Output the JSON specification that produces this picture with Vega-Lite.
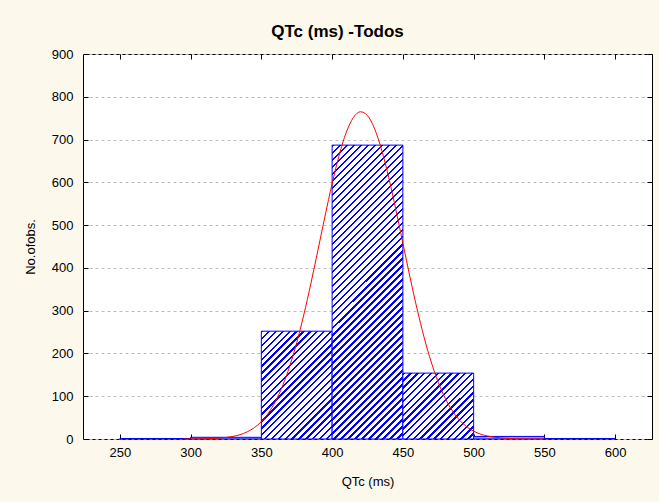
{
  "$schema": "https://vega.github.io/schema/vega-lite/v6.json",
  "width": 569,
  "height": 385,
  "autosize": {"type": "none"},
  "padding": {"left": 83, "top": 54, "right": 7, "bottom": 63},
  "background": "#fdf8ec",
  "title": {
    "text": "QTc (ms) -Todos",
    "font": "Liberation Sans",
    "fontSize": 17,
    "fontWeight": "bold",
    "color": "#000000",
    "dx": -30,
    "offset": 7
  },
  "config": {
    "view": {"stroke": "#000000", "strokeWidth": 1, "fill": "#ffffff"},
    "axis": {
      "labelFont": "Liberation Sans",
      "labelFontSize": 13,
      "labelColor": "#000000",
      "titleFont": "Liberation Sans",
      "titleFontSize": 13,
      "titleFontWeight": "normal",
      "titleColor": "#000000",
      "tickColor": "#000000",
      "tickSize": -5,
      "domain": false
    }
  },
  "datasets": {
    "bins": [
      {"lo": 250, "hi": 300, "count": 1},
      {"lo": 300, "hi": 350, "count": 4},
      {"lo": 350, "hi": 400, "count": 252},
      {"lo": 400, "hi": 450, "count": 687},
      {"lo": 450, "hi": 500, "count": 154},
      {"lo": 500, "hi": 550, "count": 6},
      {"lo": 550, "hi": 600, "count": 1}
    ],
    "normal": [
      {"q": 295, "n": 0.07}, {"q": 300, "n": 0.14}, {"q": 305, "n": 0.29}, {"q": 310, "n": 0.57},
      {"q": 315, "n": 1.07}, {"q": 320, "n": 1.97}, {"q": 325, "n": 3.5}, {"q": 330, "n": 6.1},
      {"q": 335, "n": 10.2}, {"q": 340, "n": 16.7}, {"q": 345, "n": 26.4}, {"q": 350, "n": 40.6},
      {"q": 355, "n": 60.7}, {"q": 360, "n": 88.2}, {"q": 365, "n": 124.1}, {"q": 370, "n": 169.7},
      {"q": 375, "n": 225.2}, {"q": 380, "n": 290.4}, {"q": 385, "n": 363.5}, {"q": 390, "n": 441.7},
      {"q": 395, "n": 521.1}, {"q": 400, "n": 596.9}, {"q": 405, "n": 663.8}, {"q": 410, "n": 716.8},
      {"q": 415, "n": 751.5}, {"q": 420, "n": 764.9}, {"q": 425, "n": 755.9}, {"q": 430, "n": 725.3},
      {"q": 435, "n": 675.7}, {"q": 440, "n": 611.2}, {"q": 445, "n": 536.7}, {"q": 450, "n": 457.6},
      {"q": 455, "n": 378.8}, {"q": 460, "n": 304.5}, {"q": 465, "n": 237.6}, {"q": 470, "n": 180.0},
      {"q": 475, "n": 132.4}, {"q": 480, "n": 94.6}, {"q": 485, "n": 65.6}, {"q": 490, "n": 44.2},
      {"q": 495, "n": 28.9}, {"q": 500, "n": 18.3}, {"q": 505, "n": 11.3}, {"q": 510, "n": 6.8},
      {"q": 515, "n": 3.9}, {"q": 520, "n": 2.2}, {"q": 525, "n": 1.21}, {"q": 530, "n": 0.64},
      {"q": 535, "n": 0.33}, {"q": 540, "n": 0.17}, {"q": 545, "n": 0.08}, {"q": 550, "n": 0.04}
    ]
  },
  "layer": [
    {
      "data": {"name": "bins"},
      "mark": {"type": "rect", "stroke": "#0000ff", "strokeWidth": 1},
      "encoding": {
        "x": {
          "field": "lo",
          "type": "quantitative",
          "scale": {"domain": [224, 626], "nice": false, "zero": false},
          "axis": {
            "orient": "bottom",
            "values": [250, 300, 350, 400, 450, 500, 550, 600],
            "title": "QTc (ms)",
            "titlePadding": 16,
            "labelPadding": 12,
            "grid": false
          }
        },
        "x2": {"field": "hi"},
        "y": {
          "field": "count",
          "type": "quantitative",
          "scale": {"domain": [0, 900], "nice": false},
          "axis": {
            "orient": "left",
            "values": [0, 100, 200, 300, 400, 500, 600, 700, 800, 900],
            "title": "No.ofobs.",
            "titlePadding": 14,
            "labelPadding": 15,
            "grid": true,
            "gridColor": "#bdbdbd",
            "gridDash": [3, 3],
            "gridWidth": 1
          }
        },
        "y2": {"datum": 0},
        "fill": {
          "condition": [
            {
              "test": "datum.count > 500",
              "value": {
                "gradient": "linear", "x1": 0, "y1": 0, "x2": 0.2824, "y2": 1.1728,
                "stops": [
                  {"offset": 0, "color": "#00f"}, {"offset": 0.0067, "color": "#00f"}, {"offset": 0.0067, "color": "#fff"}, {"offset": 0.0192, "color": "#fff"},
                  {"offset": 0.0192, "color": "#00f"}, {"offset": 0.026, "color": "#00f"}, {"offset": 0.026, "color": "#fff"}, {"offset": 0.0385, "color": "#fff"},
                  {"offset": 0.0385, "color": "#00f"}, {"offset": 0.0452, "color": "#00f"}, {"offset": 0.0452, "color": "#fff"}, {"offset": 0.0577, "color": "#fff"},
                  {"offset": 0.0577, "color": "#00f"}, {"offset": 0.0644, "color": "#00f"}, {"offset": 0.0644, "color": "#fff"}, {"offset": 0.0769, "color": "#fff"},
                  {"offset": 0.0769, "color": "#00f"}, {"offset": 0.0837, "color": "#00f"}, {"offset": 0.0837, "color": "#fff"}, {"offset": 0.0962, "color": "#fff"},
                  {"offset": 0.0962, "color": "#00f"}, {"offset": 0.1029, "color": "#00f"}, {"offset": 0.1029, "color": "#fff"}, {"offset": 0.1154, "color": "#fff"},
                  {"offset": 0.1154, "color": "#00f"}, {"offset": 0.1221, "color": "#00f"}, {"offset": 0.1221, "color": "#fff"}, {"offset": 0.1346, "color": "#fff"},
                  {"offset": 0.1346, "color": "#00f"}, {"offset": 0.1413, "color": "#00f"}, {"offset": 0.1413, "color": "#fff"}, {"offset": 0.1538, "color": "#fff"},
                  {"offset": 0.1538, "color": "#00f"}, {"offset": 0.1606, "color": "#00f"}, {"offset": 0.1606, "color": "#fff"}, {"offset": 0.1731, "color": "#fff"},
                  {"offset": 0.1731, "color": "#00f"}, {"offset": 0.1798, "color": "#00f"}, {"offset": 0.1798, "color": "#fff"}, {"offset": 0.1923, "color": "#fff"},
                  {"offset": 0.1923, "color": "#00f"}, {"offset": 0.199, "color": "#00f"}, {"offset": 0.199, "color": "#fff"}, {"offset": 0.2115, "color": "#fff"},
                  {"offset": 0.2115, "color": "#00f"}, {"offset": 0.2183, "color": "#00f"}, {"offset": 0.2183, "color": "#fff"}, {"offset": 0.2308, "color": "#fff"},
                  {"offset": 0.2308, "color": "#00f"}, {"offset": 0.2375, "color": "#00f"}, {"offset": 0.2375, "color": "#fff"}, {"offset": 0.25, "color": "#fff"},
                  {"offset": 0.25, "color": "#00f"}, {"offset": 0.2567, "color": "#00f"}, {"offset": 0.2567, "color": "#fff"}, {"offset": 0.2692, "color": "#fff"},
                  {"offset": 0.2692, "color": "#00f"}, {"offset": 0.276, "color": "#00f"}, {"offset": 0.276, "color": "#fff"}, {"offset": 0.2885, "color": "#fff"},
                  {"offset": 0.2885, "color": "#00f"}, {"offset": 0.2952, "color": "#00f"}, {"offset": 0.2952, "color": "#fff"}, {"offset": 0.3077, "color": "#fff"},
                  {"offset": 0.3077, "color": "#00f"}, {"offset": 0.3144, "color": "#00f"}, {"offset": 0.3144, "color": "#fff"}, {"offset": 0.3269, "color": "#fff"},
                  {"offset": 0.3269, "color": "#00f"}, {"offset": 0.3337, "color": "#00f"}, {"offset": 0.3337, "color": "#fff"}, {"offset": 0.3462, "color": "#fff"},
                  {"offset": 0.3462, "color": "#00f"}, {"offset": 0.3529, "color": "#00f"}, {"offset": 0.3529, "color": "#fff"}, {"offset": 0.3654, "color": "#fff"},
                  {"offset": 0.3654, "color": "#00f"}, {"offset": 0.3721, "color": "#00f"}, {"offset": 0.3721, "color": "#fff"}, {"offset": 0.3846, "color": "#fff"},
                  {"offset": 0.3846, "color": "#00f"}, {"offset": 0.3913, "color": "#00f"}, {"offset": 0.3913, "color": "#fff"}, {"offset": 0.4038, "color": "#fff"},
                  {"offset": 0.4038, "color": "#00f"}, {"offset": 0.4106, "color": "#00f"}, {"offset": 0.4106, "color": "#fff"}, {"offset": 0.4231, "color": "#fff"},
                  {"offset": 0.4231, "color": "#00f"}, {"offset": 0.4298, "color": "#00f"}, {"offset": 0.4298, "color": "#fff"}, {"offset": 0.4423, "color": "#fff"},
                  {"offset": 0.4423, "color": "#00f"}, {"offset": 0.449, "color": "#00f"}, {"offset": 0.449, "color": "#fff"}, {"offset": 0.4615, "color": "#fff"},
                  {"offset": 0.4615, "color": "#00f"}, {"offset": 0.4683, "color": "#00f"}, {"offset": 0.4683, "color": "#fff"}, {"offset": 0.4808, "color": "#fff"},
                  {"offset": 0.4808, "color": "#00f"}, {"offset": 0.4875, "color": "#00f"}, {"offset": 0.4875, "color": "#fff"}, {"offset": 0.5, "color": "#fff"},
                  {"offset": 0.5, "color": "#00f"}, {"offset": 0.5067, "color": "#00f"}, {"offset": 0.5067, "color": "#fff"}, {"offset": 0.5192, "color": "#fff"},
                  {"offset": 0.5192, "color": "#00f"}, {"offset": 0.526, "color": "#00f"}, {"offset": 0.526, "color": "#fff"}, {"offset": 0.5385, "color": "#fff"},
                  {"offset": 0.5385, "color": "#00f"}, {"offset": 0.5452, "color": "#00f"}, {"offset": 0.5452, "color": "#fff"}, {"offset": 0.5577, "color": "#fff"},
                  {"offset": 0.5577, "color": "#00f"}, {"offset": 0.5644, "color": "#00f"}, {"offset": 0.5644, "color": "#fff"}, {"offset": 0.5769, "color": "#fff"},
                  {"offset": 0.5769, "color": "#00f"}, {"offset": 0.5837, "color": "#00f"}, {"offset": 0.5837, "color": "#fff"}, {"offset": 0.5962, "color": "#fff"},
                  {"offset": 0.5962, "color": "#00f"}, {"offset": 0.6029, "color": "#00f"}, {"offset": 0.6029, "color": "#fff"}, {"offset": 0.6154, "color": "#fff"},
                  {"offset": 0.6154, "color": "#00f"}, {"offset": 0.6221, "color": "#00f"}, {"offset": 0.6221, "color": "#fff"}, {"offset": 0.6346, "color": "#fff"},
                  {"offset": 0.6346, "color": "#00f"}, {"offset": 0.6413, "color": "#00f"}, {"offset": 0.6413, "color": "#fff"}, {"offset": 0.6538, "color": "#fff"},
                  {"offset": 0.6538, "color": "#00f"}, {"offset": 0.6606, "color": "#00f"}, {"offset": 0.6606, "color": "#fff"}, {"offset": 0.6731, "color": "#fff"},
                  {"offset": 0.6731, "color": "#00f"}, {"offset": 0.6798, "color": "#00f"}, {"offset": 0.6798, "color": "#fff"}, {"offset": 0.6923, "color": "#fff"},
                  {"offset": 0.6923, "color": "#00f"}, {"offset": 0.699, "color": "#00f"}, {"offset": 0.699, "color": "#fff"}, {"offset": 0.7115, "color": "#fff"},
                  {"offset": 0.7115, "color": "#00f"}, {"offset": 0.7183, "color": "#00f"}, {"offset": 0.7183, "color": "#fff"}, {"offset": 0.7308, "color": "#fff"},
                  {"offset": 0.7308, "color": "#00f"}, {"offset": 0.7375, "color": "#00f"}, {"offset": 0.7375, "color": "#fff"}, {"offset": 0.75, "color": "#fff"},
                  {"offset": 0.75, "color": "#00f"}, {"offset": 0.7567, "color": "#00f"}, {"offset": 0.7567, "color": "#fff"}, {"offset": 0.7692, "color": "#fff"},
                  {"offset": 0.7692, "color": "#00f"}, {"offset": 0.776, "color": "#00f"}, {"offset": 0.776, "color": "#fff"}, {"offset": 0.7885, "color": "#fff"},
                  {"offset": 0.7885, "color": "#00f"}, {"offset": 0.7952, "color": "#00f"}, {"offset": 0.7952, "color": "#fff"}, {"offset": 0.8077, "color": "#fff"},
                  {"offset": 0.8077, "color": "#00f"}, {"offset": 0.8144, "color": "#00f"}, {"offset": 0.8144, "color": "#fff"}, {"offset": 0.8269, "color": "#fff"},
                  {"offset": 0.8269, "color": "#00f"}, {"offset": 0.8337, "color": "#00f"}, {"offset": 0.8337, "color": "#fff"}, {"offset": 0.8462, "color": "#fff"},
                  {"offset": 0.8462, "color": "#00f"}, {"offset": 0.8529, "color": "#00f"}, {"offset": 0.8529, "color": "#fff"}, {"offset": 0.8654, "color": "#fff"},
                  {"offset": 0.8654, "color": "#00f"}, {"offset": 0.8721, "color": "#00f"}, {"offset": 0.8721, "color": "#fff"}, {"offset": 0.8846, "color": "#fff"},
                  {"offset": 0.8846, "color": "#00f"}, {"offset": 0.8913, "color": "#00f"}, {"offset": 0.8913, "color": "#fff"}, {"offset": 0.9038, "color": "#fff"},
                  {"offset": 0.9038, "color": "#00f"}, {"offset": 0.9106, "color": "#00f"}, {"offset": 0.9106, "color": "#fff"}, {"offset": 0.9231, "color": "#fff"},
                  {"offset": 0.9231, "color": "#00f"}, {"offset": 0.9298, "color": "#00f"}, {"offset": 0.9298, "color": "#fff"}, {"offset": 0.9423, "color": "#fff"},
                  {"offset": 0.9423, "color": "#00f"}, {"offset": 0.949, "color": "#00f"}, {"offset": 0.949, "color": "#fff"}, {"offset": 0.9615, "color": "#fff"},
                  {"offset": 0.9615, "color": "#00f"}, {"offset": 0.9683, "color": "#00f"}, {"offset": 0.9683, "color": "#fff"}, {"offset": 0.9808, "color": "#fff"},
                  {"offset": 0.9808, "color": "#00f"}, {"offset": 0.9875, "color": "#00f"}, {"offset": 0.9875, "color": "#fff"}, {"offset": 1, "color": "#fff"}
                ]
              }
            },
            {
              "test": "datum.count > 200",
              "value": {
                "gradient": "linear", "x1": 0, "y1": 0, "x2": 0.76, "y2": 1.1576,
                "stops": [
                  {"offset": 0, "color": "#00f"}, {"offset": 0.0135, "color": "#00f"}, {"offset": 0.0135, "color": "#fff"}, {"offset": 0.0385, "color": "#fff"},
                  {"offset": 0.0385, "color": "#00f"}, {"offset": 0.0519, "color": "#00f"}, {"offset": 0.0519, "color": "#fff"}, {"offset": 0.0769, "color": "#fff"},
                  {"offset": 0.0769, "color": "#00f"}, {"offset": 0.0904, "color": "#00f"}, {"offset": 0.0904, "color": "#fff"}, {"offset": 0.1154, "color": "#fff"},
                  {"offset": 0.1154, "color": "#00f"}, {"offset": 0.1288, "color": "#00f"}, {"offset": 0.1288, "color": "#fff"}, {"offset": 0.1538, "color": "#fff"},
                  {"offset": 0.1538, "color": "#00f"}, {"offset": 0.1673, "color": "#00f"}, {"offset": 0.1673, "color": "#fff"}, {"offset": 0.1923, "color": "#fff"},
                  {"offset": 0.1923, "color": "#00f"}, {"offset": 0.2058, "color": "#00f"}, {"offset": 0.2058, "color": "#fff"}, {"offset": 0.2308, "color": "#fff"},
                  {"offset": 0.2308, "color": "#00f"}, {"offset": 0.2442, "color": "#00f"}, {"offset": 0.2442, "color": "#fff"}, {"offset": 0.2692, "color": "#fff"},
                  {"offset": 0.2692, "color": "#00f"}, {"offset": 0.2827, "color": "#00f"}, {"offset": 0.2827, "color": "#fff"}, {"offset": 0.3077, "color": "#fff"},
                  {"offset": 0.3077, "color": "#00f"}, {"offset": 0.3212, "color": "#00f"}, {"offset": 0.3212, "color": "#fff"}, {"offset": 0.3462, "color": "#fff"},
                  {"offset": 0.3462, "color": "#00f"}, {"offset": 0.3596, "color": "#00f"}, {"offset": 0.3596, "color": "#fff"}, {"offset": 0.3846, "color": "#fff"},
                  {"offset": 0.3846, "color": "#00f"}, {"offset": 0.3981, "color": "#00f"}, {"offset": 0.3981, "color": "#fff"}, {"offset": 0.4231, "color": "#fff"},
                  {"offset": 0.4231, "color": "#00f"}, {"offset": 0.4365, "color": "#00f"}, {"offset": 0.4365, "color": "#fff"}, {"offset": 0.4615, "color": "#fff"},
                  {"offset": 0.4615, "color": "#00f"}, {"offset": 0.475, "color": "#00f"}, {"offset": 0.475, "color": "#fff"}, {"offset": 0.5, "color": "#fff"},
                  {"offset": 0.5, "color": "#00f"}, {"offset": 0.5135, "color": "#00f"}, {"offset": 0.5135, "color": "#fff"}, {"offset": 0.5385, "color": "#fff"},
                  {"offset": 0.5385, "color": "#00f"}, {"offset": 0.5519, "color": "#00f"}, {"offset": 0.5519, "color": "#fff"}, {"offset": 0.5769, "color": "#fff"},
                  {"offset": 0.5769, "color": "#00f"}, {"offset": 0.5904, "color": "#00f"}, {"offset": 0.5904, "color": "#fff"}, {"offset": 0.6154, "color": "#fff"},
                  {"offset": 0.6154, "color": "#00f"}, {"offset": 0.6288, "color": "#00f"}, {"offset": 0.6288, "color": "#fff"}, {"offset": 0.6538, "color": "#fff"},
                  {"offset": 0.6538, "color": "#00f"}, {"offset": 0.6673, "color": "#00f"}, {"offset": 0.6673, "color": "#fff"}, {"offset": 0.6923, "color": "#fff"},
                  {"offset": 0.6923, "color": "#00f"}, {"offset": 0.7058, "color": "#00f"}, {"offset": 0.7058, "color": "#fff"}, {"offset": 0.7308, "color": "#fff"},
                  {"offset": 0.7308, "color": "#00f"}, {"offset": 0.7442, "color": "#00f"}, {"offset": 0.7442, "color": "#fff"}, {"offset": 0.7692, "color": "#fff"},
                  {"offset": 0.7692, "color": "#00f"}, {"offset": 0.7827, "color": "#00f"}, {"offset": 0.7827, "color": "#fff"}, {"offset": 0.8077, "color": "#fff"},
                  {"offset": 0.8077, "color": "#00f"}, {"offset": 0.8212, "color": "#00f"}, {"offset": 0.8212, "color": "#fff"}, {"offset": 0.8462, "color": "#fff"},
                  {"offset": 0.8462, "color": "#00f"}, {"offset": 0.8596, "color": "#00f"}, {"offset": 0.8596, "color": "#fff"}, {"offset": 0.8846, "color": "#fff"},
                  {"offset": 0.8846, "color": "#00f"}, {"offset": 0.8981, "color": "#00f"}, {"offset": 0.8981, "color": "#fff"}, {"offset": 0.9231, "color": "#fff"},
                  {"offset": 0.9231, "color": "#00f"}, {"offset": 0.9365, "color": "#00f"}, {"offset": 0.9365, "color": "#fff"}, {"offset": 0.9615, "color": "#fff"},
                  {"offset": 0.9615, "color": "#00f"}, {"offset": 0.975, "color": "#00f"}, {"offset": 0.975, "color": "#fff"}, {"offset": 1, "color": "#fff"}
                ]
              }
            },
            {
              "test": "datum.count > 100",
              "value": {
                "gradient": "linear", "x1": 0, "y1": 0, "x2": 1.0345, "y2": 0.963,
                "stops": [
                  {"offset": 0, "color": "#00f"}, {"offset": 0.0175, "color": "#00f"}, {"offset": 0.0175, "color": "#fff"}, {"offset": 0.05, "color": "#fff"},
                  {"offset": 0.05, "color": "#00f"}, {"offset": 0.0675, "color": "#00f"}, {"offset": 0.0675, "color": "#fff"}, {"offset": 0.1, "color": "#fff"},
                  {"offset": 0.1, "color": "#00f"}, {"offset": 0.1175, "color": "#00f"}, {"offset": 0.1175, "color": "#fff"}, {"offset": 0.15, "color": "#fff"},
                  {"offset": 0.15, "color": "#00f"}, {"offset": 0.1675, "color": "#00f"}, {"offset": 0.1675, "color": "#fff"}, {"offset": 0.2, "color": "#fff"},
                  {"offset": 0.2, "color": "#00f"}, {"offset": 0.2175, "color": "#00f"}, {"offset": 0.2175, "color": "#fff"}, {"offset": 0.25, "color": "#fff"},
                  {"offset": 0.25, "color": "#00f"}, {"offset": 0.2675, "color": "#00f"}, {"offset": 0.2675, "color": "#fff"}, {"offset": 0.3, "color": "#fff"},
                  {"offset": 0.3, "color": "#00f"}, {"offset": 0.3175, "color": "#00f"}, {"offset": 0.3175, "color": "#fff"}, {"offset": 0.35, "color": "#fff"},
                  {"offset": 0.35, "color": "#00f"}, {"offset": 0.3675, "color": "#00f"}, {"offset": 0.3675, "color": "#fff"}, {"offset": 0.4, "color": "#fff"},
                  {"offset": 0.4, "color": "#00f"}, {"offset": 0.4175, "color": "#00f"}, {"offset": 0.4175, "color": "#fff"}, {"offset": 0.45, "color": "#fff"},
                  {"offset": 0.45, "color": "#00f"}, {"offset": 0.4675, "color": "#00f"}, {"offset": 0.4675, "color": "#fff"}, {"offset": 0.5, "color": "#fff"},
                  {"offset": 0.5, "color": "#00f"}, {"offset": 0.5175, "color": "#00f"}, {"offset": 0.5175, "color": "#fff"}, {"offset": 0.55, "color": "#fff"},
                  {"offset": 0.55, "color": "#00f"}, {"offset": 0.5675, "color": "#00f"}, {"offset": 0.5675, "color": "#fff"}, {"offset": 0.6, "color": "#fff"},
                  {"offset": 0.6, "color": "#00f"}, {"offset": 0.6175, "color": "#00f"}, {"offset": 0.6175, "color": "#fff"}, {"offset": 0.65, "color": "#fff"},
                  {"offset": 0.65, "color": "#00f"}, {"offset": 0.6675, "color": "#00f"}, {"offset": 0.6675, "color": "#fff"}, {"offset": 0.7, "color": "#fff"},
                  {"offset": 0.7, "color": "#00f"}, {"offset": 0.7175, "color": "#00f"}, {"offset": 0.7175, "color": "#fff"}, {"offset": 0.75, "color": "#fff"},
                  {"offset": 0.75, "color": "#00f"}, {"offset": 0.7675, "color": "#00f"}, {"offset": 0.7675, "color": "#fff"}, {"offset": 0.8, "color": "#fff"},
                  {"offset": 0.8, "color": "#00f"}, {"offset": 0.8175, "color": "#00f"}, {"offset": 0.8175, "color": "#fff"}, {"offset": 0.85, "color": "#fff"},
                  {"offset": 0.85, "color": "#00f"}, {"offset": 0.8675, "color": "#00f"}, {"offset": 0.8675, "color": "#fff"}, {"offset": 0.9, "color": "#fff"},
                  {"offset": 0.9, "color": "#00f"}, {"offset": 0.9175, "color": "#00f"}, {"offset": 0.9175, "color": "#fff"}, {"offset": 0.95, "color": "#fff"},
                  {"offset": 0.95, "color": "#00f"}, {"offset": 0.9675, "color": "#00f"}, {"offset": 0.9675, "color": "#fff"}, {"offset": 1, "color": "#fff"}
                ]
              }
            }
          ],
          "value": "#9a9aff"
        }
      }
    },
    {
      "data": {"name": "normal"},
      "mark": {"type": "line", "color": "#ff0000", "strokeWidth": 1, "interpolate": "monotone"},
      "encoding": {
        "x": {
          "field": "q",
          "type": "quantitative",
          "axis": {
            "orient": "top",
            "values": [250, 300, 350, 400, 450, 500, 550, 600],
            "labels": false,
            "title": null,
            "grid": false
          }
        },
        "y": {
          "field": "n",
          "type": "quantitative",
          "axis": {
            "orient": "right",
            "values": [0, 100, 200, 300, 400, 500, 600, 700, 800, 900],
            "labels": false,
            "title": null,
            "grid": false
          }
        }
      }
    }
  ],
  "resolve": {"axis": {"x": "independent", "y": "independent"}}
}
